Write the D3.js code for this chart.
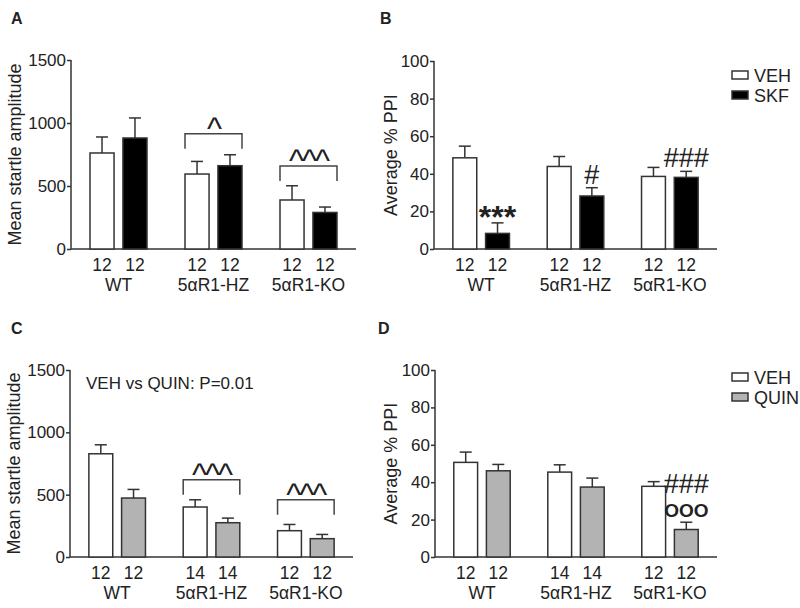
<!DOCTYPE html>
<html>
<head>
<meta charset="utf-8">
<script src="https://cdn.jsdelivr.net/npm/d3@7"></script>
<style>
  body { margin: 0; background: #fff; }
  svg { display: block; }
  text { font-family: Arial, "Liberation Sans", sans-serif; fill: #222; }
</style>
</head>
<body>
<svg id="fig" width="800" height="608"></svg>
<script>
// 数据: 三种基因型 × (VEH / 药物), 均值 + SEM(只画向上误差线)
const groups = ["WT", "5αR1-HZ", "5αR1-KO"];

// A: 惊跳幅度, SKF
const aVeh = [762, 595, 389], aVehSem = [127, 100, 113];
const aSkf = [881, 661, 290], aSkfSem = [159, 87, 43];
const aN = [[12, 12], [12, 12], [12, 12]];
const aBrackets = [{ group: "5αR1-HZ", value: 915, label: "^" }, { group: "5αR1-KO", value: 659, label: "^^^" }];

// B: PPI, SKF
const bVeh = [48.5, 43.9, 38.6], bVehSem = [6.2, 5.3, 4.8];
const bSkf = [8.3, 28.2, 38.1], bSkfSem = [5.6, 4.4, 3.2];
const bN = [[12, 12], [12, 12], [12, 12]];
const bMarks = [{ group: "WT", label: "***" }, { group: "5αR1-HZ", label: "#" }, { group: "5αR1-KO", label: "###" }];

// C: 惊跳幅度, QUIN
const cVeh = [828, 401, 211], cVehSem = [72, 58, 50];
const cQuin = [473, 275, 147], cQuinSem = [69, 37, 34];
const cN = [[12, 12], [14, 14], [12, 12]];
const cBrackets = [{ group: "5αR1-HZ", value: 619, label: "^^^" }, { group: "5αR1-KO", value: 459, label: "^^^" }];

// D: PPI, QUIN
const dVeh = [50.6, 45.4, 37.8], dVehSem = [5.5, 3.9, 2.5];
const dQuin = [46.1, 37.4, 14.7], dQuinSem = [3.4, 4.8, 3.9];
const dN = [[12, 12], [14, 14], [12, 12]];
const dMarks = [{ group: "5αR1-KO", label: "OOO" }, { group: "5αR1-KO", label: "###", stack: 1 }];

const startleTicks = [0, 500, 1000, 1500];
const ppiTicks = [0, 20, 40, 60, 80, 100];

const INK = "#333", GRAY = "#b3b3b3";
// 标注字形: 字号 + 基线相对误差线帽的偏移
const MARK_STYLE = {
  "***": { size: 32, weight: 700, dy: 5 },
  "#": { size: 27, weight: 400, dy: -4 },
  "###": { size: 27, weight: 400, dy: -4 },
  "OOO": { size: 19, weight: 700, dy: -5 }
};

const svg = d3.select("#fig");

function drawPanel(p) {
  const g = svg.append("g");
  const x = d3.scaleBand().domain(groups).range([p.left, p.right]).paddingInner(0.4).paddingOuter(0.2);
  const xs = d3.scaleBand().domain([0, 1]).range([0, x.bandwidth()]).paddingInner(0.27);
  const y = d3.scaleLinear().domain([0, p.max]).range([p.bottom, p.top]);

  // 面板字母
  g.append("text").attr("x", p.labelX).attr("y", p.labelY).attr("font-size", 16).attr("font-weight", 700).text(p.letter);

  // y 轴
  const ya = g.append("g").attr("transform", `translate(${p.left},0)`)
    .call(d3.axisLeft(y).tickValues(p.ticks).tickFormat(d3.format("d")).tickSize(4).tickSizeOuter(0).tickPadding(1));
  ya.selectAll("text").attr("font-size", 17).attr("font-family", null).attr("fill", "#222");
  ya.selectAll("path,line").attr("stroke", INK).attr("stroke-width", 1.5);
  ya.select(".domain").remove();
  g.append("line").attr("x1", p.left).attr("x2", p.left).attr("y1", y(p.max)).attr("y2", y(0)).attr("stroke", INK).attr("stroke-width", 1.5);
  g.append("text").attr("transform", `translate(${p.titleX},${(p.top + p.bottom) / 2}) rotate(-90)`)
    .attr("text-anchor", "middle").attr("font-size", 18).text(p.title);

  // x 轴线(无刻度)
  g.append("line").attr("x1", p.left).attr("x2", p.right).attr("y1", y(0)).attr("y2", y(0)).attr("stroke", INK).attr("stroke-width", 1.5);

  const series = [
    { vals: p.veh, sem: p.vehSem, fill: "#fff" },
    { vals: p.drug, sem: p.drugSem, fill: p.drugFill }
  ];
  const barX = (gi, si) => x(groups[gi]) + xs(si);
  const capY = (gi, si) => y(series[si].vals[gi] + series[si].sem[gi]);

  series.forEach((s, si) => {
    const data = groups.map((name, gi) => ({ gi, v: s.vals[gi], e: s.sem[gi] }));
    const cx = (d) => barX(d.gi, si) + xs.bandwidth() / 2;
    g.append("g").selectAll("line").data(data).join("line")
      .attr("x1", cx).attr("x2", cx).attr("y1", (d) => y(d.v)).attr("y2", (d) => y(d.v + d.e))
      .attr("stroke", INK).attr("stroke-width", 1.5);
    g.append("g").selectAll("line").data(data).join("line")
      .attr("x1", (d) => cx(d) - 6).attr("x2", (d) => cx(d) + 6).attr("y1", (d) => y(d.v + d.e)).attr("y2", (d) => y(d.v + d.e))
      .attr("stroke", INK).attr("stroke-width", 1.5);
    g.append("g").selectAll("rect").data(data).join("rect")
      .attr("x", (d) => barX(d.gi, si)).attr("width", xs.bandwidth())
      .attr("y", (d) => y(d.v)).attr("height", (d) => y(0) - y(d.v))
      .attr("fill", s.fill).attr("stroke", INK).attr("stroke-width", 1.5);
    // n
    g.append("g").selectAll("text").data(data).join("text")
      .attr("x", cx).attr("y", p.bottom + 22).attr("text-anchor", "middle").attr("font-size", 17.5)
      .text((d) => p.n[d.gi][si]);
  });

  g.append("g").selectAll("text").data(groups).join("text")
    .attr("x", (d) => x(d) + x.bandwidth() / 2).attr("y", p.bottom + 42).attr("text-anchor", "middle")
    .attr("font-size", 17.5).text((d) => d);

  // 组内比较括号 + ^
  (p.brackets || []).forEach((b) => {
    const x0 = x(b.group), x1 = x(b.group) + x.bandwidth(), yb = y(b.value);
    g.append("path").attr("d", `M${x0},${yb + 15}V${yb}H${x1}V${yb + 15}`)
      .attr("fill", "none").attr("stroke", "#444").attr("stroke-width", 1.5);
    g.append("text").attr("x", (x0 + x1) / 2).attr("y", yb + 5).attr("text-anchor", "middle")
      .attr("font-size", 32).attr("letter-spacing", -2).text(b.label);
  });

  // 药物柱上方显著性标记
  (p.marks || []).forEach((m) => {
    const gi = groups.indexOf(m.group), st = MARK_STYLE[m.label];
    const cx = barX(gi, 1) + xs.bandwidth() / 2;
    const base = capY(gi, 1) + st.dy - (m.stack ? 25 : 0);
    g.append("text").attr("x", cx).attr("y", base).attr("text-anchor", "middle")
      .attr("font-size", st.size).attr("font-weight", st.weight).text(m.label);
  });

  if (p.note) g.append("text").attr("x", p.left + 16).attr("y", p.top + 19).attr("font-size", 17).text(p.note);

  if (p.legend) {
    p.legend.forEach((name, i) => {
      const cy = p.legendY + i * 20;
      g.append("rect").attr("x", 732).attr("y", cy - 4).attr("width", 16).attr("height", 8)
        .attr("fill", i === 0 ? "#fff" : p.drugFill).attr("stroke", INK).attr("stroke-width", 1.5);
      g.append("text").attr("x", 754).attr("y", cy + 6.5).attr("font-size", 18).text(name);
    });
  }
}

drawPanel({ letter: "A", labelX: 11, labelY: 24, left: 71, right: 356, top: 60, bottom: 249, max: 1500,
  ticks: startleTicks, title: "Mean startle amplitude", titleX: 21,
  veh: aVeh, vehSem: aVehSem, drug: aSkf, drugSem: aSkfSem, drugFill: "#000", n: aN, brackets: aBrackets });

drawPanel({ letter: "B", labelX: 380, labelY: 24, left: 434, right: 717, top: 61, bottom: 249, max: 100,
  ticks: ppiTicks, title: "Average % PPI", titleX: 397,
  veh: bVeh, vehSem: bVehSem, drug: bSkf, drugSem: bSkfSem, drugFill: "#000", n: bN, marks: bMarks,
  legend: ["VEH", "SKF"], legendY: 75 });

drawPanel({ letter: "C", labelX: 11, labelY: 334, left: 70, right: 353, top: 370, bottom: 557, max: 1500,
  ticks: startleTicks, title: "Mean startle amplitude", titleX: 20,
  veh: cVeh, vehSem: cVehSem, drug: cQuin, drugSem: cQuinSem, drugFill: GRAY, n: cN, brackets: cBrackets,
  note: "VEH vs QUIN: P=0.01" });

drawPanel({ letter: "D", labelX: 378, labelY: 334, left: 435, right: 717, top: 370, bottom: 557, max: 100,
  ticks: ppiTicks, title: "Average % PPI", titleX: 397,
  veh: dVeh, vehSem: dVehSem, drug: dQuin, drugSem: dQuinSem, drugFill: GRAY, n: dN, marks: dMarks,
  legend: ["VEH", "QUIN"], legendY: 377 });
</script>
</body>
</html>
